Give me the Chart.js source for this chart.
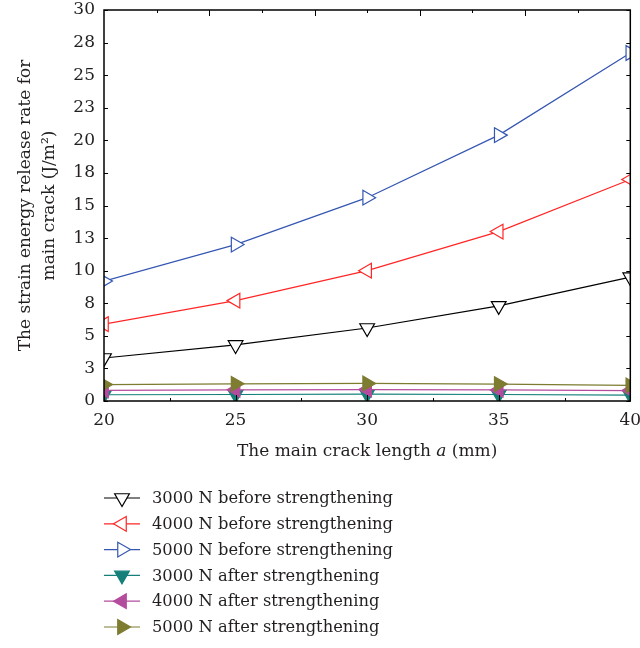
<!DOCTYPE html>
<html>
<head>
<meta charset="utf-8">
<script src="https://cdn.jsdelivr.net/npm/chart.js@4/dist/chart.umd.min.js"></script>
<style>
  html, body { margin: 0; padding: 0; background: #fff; }
</style>
</head>
<body>
<canvas id="c" width="640" height="648"></canvas>
<script>
// Main crack length a (mm)
const crackLength = [20, 25, 30, 35, 40];

// Strain energy release rate for the main crack (J/m^2)
const before3000 = [3.3, 4.3, 5.6, 7.3, 9.5];
const before4000 = [5.9, 7.7, 10.0, 13.0, 17.0];
const before5000 = [9.2, 12.0, 15.6, 20.4, 26.7];
const after3000 = [0.48, 0.50, 0.52, 0.50, 0.45];
const after4000 = [0.82, 0.86, 0.88, 0.85, 0.80];
const after5000 = [1.26, 1.32, 1.35, 1.30, 1.20];

const seriesLabels = [
  '3000 N before strengthening',
  '4000 N before strengthening',
  '5000 N before strengthening',
  '3000 N after strengthening',
  '4000 N after strengthening',
  '5000 N after strengthening'
];

// Axis ticks
const xTickValues = [20, 25, 30, 35, 40];
const yTickValues = [0, 2.5, 5, 7.5, 10, 12.5, 15, 17.5, 20, 22.5, 25, 27.5, 30];
const yTickLabels = ['0', '3', '5', '8', '10', '13', '15', '18', '20', '23', '25', '28', '30'];

const FONT = "'DejaVu Serif', 'Liberation Serif', serif";
const FSIZE = 17;
const LEGEND_FSIZE = 16.3;
const TEXT = '#231f20';

const styles = [
  { color: '#000000', rot: 180, open: true },
  { color: '#ff2626', rot: -90, open: true },
  { color: '#3557b2', rot: 90, open: true },
  { color: '#15807a', rot: 180, open: false },
  { color: '#b44c9e', rot: -90, open: false },
  { color: '#7d7c31', rot: 90, open: false }
];
const values = [before3000, before4000, before5000, after3000, after4000, after5000];

const datasets = values.map((vals, i) => {
  const s = styles[i];
  return {
    label: seriesLabels[i],
    data: crackLength.map((x, k) => ({ x: x, y: vals[k] })),
    borderColor: s.color,
    backgroundColor: s.color,
    borderWidth: 1.2,
    pointStyle: 'triangle',
    pointRotation: s.rot,
    pointRadius: 8.5,
    pointBorderWidth: 1.2,
    pointBorderColor: s.color,
    pointBackgroundColor: s.open ? '#ffffff' : s.color,
    tension: 0,
    fill: false,
    order: values.length - i
  };
});

// Frame, inward ticks, x-axis title and legend drawn on the canvas
const decorations = {
  id: 'decorations',
  afterDraw(chart) {
    const ctx = chart.ctx;
    const a = chart.chartArea;
    const xs = chart.scales.x, ys = chart.scales.y;
    ctx.save();
    ctx.strokeStyle = '#000';
    ctx.lineWidth = 1;
    ctx.beginPath();
    // left / right inward ticks
    yTickValues.forEach(v => {
      const py = Math.round(ys.getPixelForValue(v)) + 0.5;
      ctx.moveTo(a.left, py); ctx.lineTo(a.left + 4, py);
      ctx.moveTo(a.right, py); ctx.lineTo(a.right - 4, py);
    });
    // bottom ticks (minor between labels)
    for (let v = 20; v <= 40; v += 2.5) {
      const px = Math.round(xs.getPixelForValue(v)) + 0.5;
      const len = (v % 5 === 0) ? 6 : 3;
      ctx.moveTo(px, a.bottom); ctx.lineTo(px, a.bottom - len);
    }
    // top ticks
    for (let v = 22; v <= 38; v += 2) {
      const px = Math.round(xs.getPixelForValue(v)) + 0.5;
      const len = (v % 4 === 0) ? 6 : 3;
      ctx.moveTo(px, a.top); ctx.lineTo(px, a.top + len);
    }
    ctx.stroke();

    // frame
    ctx.lineWidth = 1.5;
    ctx.strokeRect(a.left, a.top, a.right - a.left, a.bottom - a.top);

    // x-axis title with italic variable
    const ty = 452;
    const f = FSIZE + 'px ' + FONT, fi = 'italic ' + FSIZE + 'px ' + FONT;
    ctx.fillStyle = TEXT;
    ctx.textBaseline = 'middle';
    const p1 = 'The main crack length ', p2 = 'a', p3 = ' (mm)';
    ctx.font = f;
    const w1 = ctx.measureText(p1).width, w3 = ctx.measureText(p3).width;
    ctx.font = fi;
    const w2 = ctx.measureText(p2).width;
    const tx = (a.left + a.right) / 2 - (w1 + w2 + w3) / 2;
    ctx.textAlign = 'left';
    ctx.font = f;
    ctx.fillText(p1, tx, ty);
    ctx.font = fi;
    ctx.fillText(p2, tx + w1, ty);
    ctx.font = f;
    ctx.fillText(p3, tx + w1 + w2, ty);

    // legend
    const lf = LEGEND_FSIZE + 'px ' + FONT;
    chart.data.datasets.forEach((ds, i) => {
      const ly = 498 + i * 25.8;
      ctx.strokeStyle = ds.borderColor;
      ctx.lineWidth = 1.2;
      ctx.beginPath();
      ctx.moveTo(104, ly); ctx.lineTo(140, ly);
      ctx.stroke();
      ctx.fillStyle = ds.pointBackgroundColor;
      Chart.helpers.drawPoint(ctx, {
        pointStyle: 'triangle',
        rotation: ds.pointRotation,
        radius: ds.pointRadius,
        borderWidth: ds.pointBorderWidth
      }, 122, ly);
      ctx.fillStyle = TEXT;
      ctx.font = lf;
      ctx.textAlign = 'left';
      ctx.textBaseline = 'middle';
      ctx.fillText(ds.label, 152, ly + 1);
    });
    ctx.restore();
  }
};

new Chart(document.getElementById('c'), {
  type: 'line',
  data: { datasets: datasets },
  options: {
    responsive: false,
    animation: false,
    layout: { padding: { top: 10, right: 8, bottom: 0, left: 0 } },
    plugins: { legend: { display: false }, tooltip: { enabled: false } },
    scales: {
      x: {
        type: 'linear',
        min: 20, max: 40,
        afterBuildTicks: s => { s.ticks = xTickValues.map(v => ({ value: v })); },
        afterFit: s => { s.height = 247; s.paddingLeft = 0; s.paddingRight = 0; },
        grid: { display: false, drawTicks: false },
        border: { display: false },
        ticks: { padding: 9, color: TEXT, font: { family: FONT, size: FSIZE }, maxRotation: 0 }
      },
      y: {
        type: 'linear',
        min: 0, max: 30,
        afterBuildTicks: s => { s.ticks = yTickValues.map(v => ({ value: v })); },
        afterFit: s => { s.width = 104; s.paddingTop = 0; s.paddingBottom = 0; },
        grid: { display: false, drawTicks: false },
        border: { display: false },
        ticks: {
          padding: 9, color: TEXT, font: { family: FONT, size: FSIZE },
          callback: (v, i) => yTickLabels[i]
        },
        title: {
          display: true,
          text: ['The strain energy release rate for', 'main crack (J/m\u00B2)'],
          color: TEXT,
          font: { family: FONT, size: FSIZE, lineHeight: '24px' },
          padding: { top: 14, bottom: 0 }
        }
      }
    }
  },
  plugins: [decorations]
});
</script>
</body>
</html>
